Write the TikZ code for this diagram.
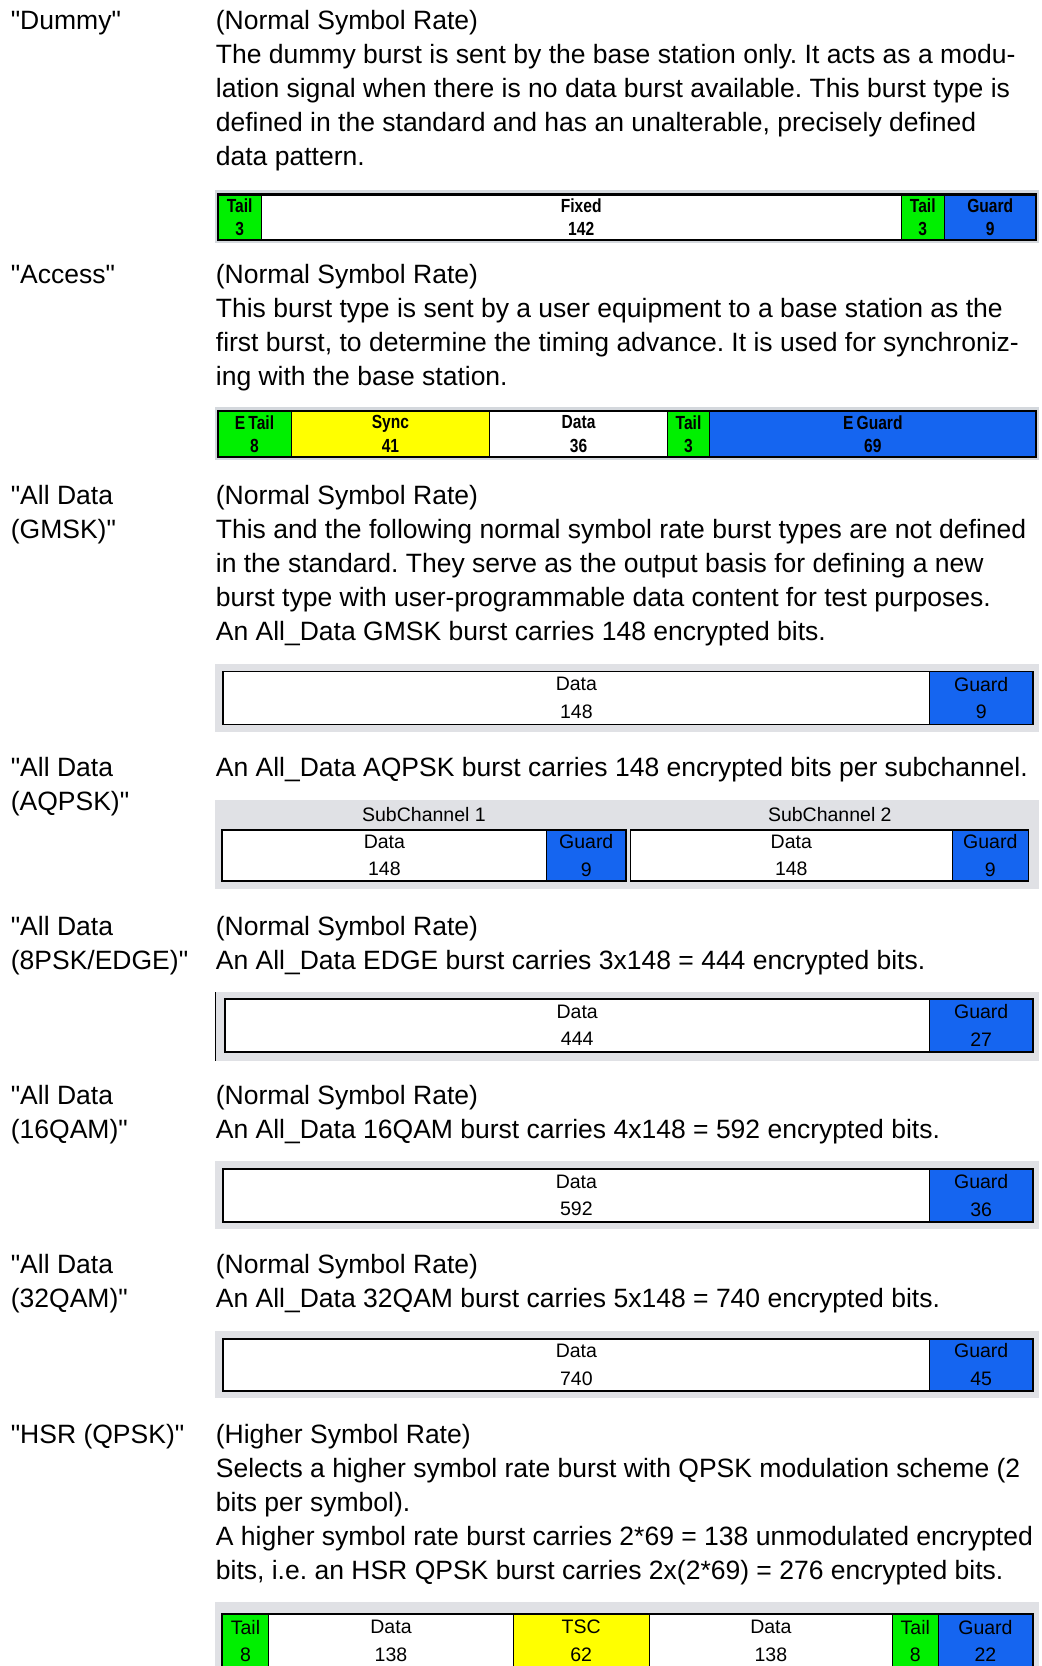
\documentclass[tikz,border=0pt]{standalone}
\usepackage{fontspec}
\setmainfont{Liberation Sans}[Ligatures=TeXOff]
\newfontfamily\narrowbold{Liberation Sans Bold}[FakeStretch=0.82, Ligatures=TeXOff]
\definecolor{tailg}{RGB}{0,240,0}
\definecolor{syncy}{RGB}{255,255,0}
\definecolor{guardb}{RGB}{21,101,240}
\definecolor{bggray}{RGB}{224,225,229}
\definecolor{bggrayb}{RGB}{212,216,221}
\newcommand\bcell[7]{%
  \draw[cellline, fill=#6] (#2,#4) rectangle (#3,#5);
  \node[celltext] (#1) at ({(#2+#3)/2},{(#4+#5)/2}) {#7};}
\frenchspacing
\begin{document}
\begin{tikzpicture}[x=1.0622pt,y=-1.0622pt,
  txt/.style={anchor=north west, inner sep=0pt, align=left, font=\fontsize{26.5}{34}\selectfont},
  bg/.style={fill=bggray, draw=none},
  bgb/.style={fill=bggrayb, draw=none},
  cellline/.style={draw=black, line width=0.9pt},
  boldbar/.style={celltext/.style={inner sep=0pt, align=center, font=\narrowbold\fontsize{19}{23.4}\selectfont}},
  plainbar/.style={celltext/.style={inner sep=0pt, align=center, font=\fontsize{19.5}{27.6}\selectfont}},
  thickframe/.style={draw=black, line width=2.2pt},
  frame/.style={draw=black, line width=1.6pt}]
\clip (0,0) rectangle (980,1568);
\fill[white] (0,0) rectangle (980,1568);

% ---------------- Dummy
\node[txt] (l1) at (10,5.6) {\strut"Dummy"};
\node[txt] (t1) at (203,5.6) {\strut(Normal Symbol Rate)\\
The dummy burst is sent by the base station only. It acts as a modu-\\
lation signal when there is no data burst available. This burst type is\\
defined in the standard and has an unalterable, precisely defined\\
data pattern.};
\fill[bgb] (202,179) rectangle (978,229);
\begin{scope}[boldbar]
\bcell{d1}{205}{246}{183}{226}{tailg}{Tail\\3}
\bcell{d2}{246}{848}{183}{226}{white}{Fixed\\142}
\bcell{d3}{848}{889}{183}{226}{tailg}{Tail\\3}
\bcell{d4}{889}{975}{183}{226}{guardb}{Guard\\9}
\draw[thickframe] (205,183) rectangle (975,226);
\end{scope}

% ---------------- Access
\node[txt] (l2) at (10,244.6) {\strut"Access"};
\node[txt] (t2) at (203,244.6) {\strut(Normal Symbol Rate)\\
This burst type is sent by a user equipment to a base station as the\\
first burst, to determine the timing advance. It is used for synchroniz-\\
ing with the base station.};
\fill[bgb] (202,383) rectangle (978,433);
\begin{scope}[boldbar]
\bcell{a1}{205}{274}{387}{430}{tailg}{E\,Tail\\8}
\bcell{a2}{274}{461}{387}{430}{syncy}{Sync\\41}
\bcell{a3}{461}{628}{387}{430}{white}{Data\\36}
\bcell{a4}{628}{668}{387}{430}{tailg}{Tail\\3}
\bcell{a5}{668}{975}{387}{430}{guardb}{E\,Guard\\69}
\draw[thickframe] (205,387) rectangle (975,430);
\end{scope}

% ---------------- All Data GMSK
\node[txt] (l3) at (10,452.6) {\strut"All Data\\(GMSK)"};
\node[txt] (t3) at (203,452.6) {\strut(Normal Symbol Rate)\\
This and the following normal symbol rate burst types are not defined\\
in the standard. They serve as the output basis for defining a new\\
burst type with user-programmable data content for test purposes.\\
An All\_Data GMSK burst carries 148 encrypted bits.};
\fill[bg] (202,625) rectangle (978,689);
\begin{scope}[plainbar]
\bcell{g1}{210}{875}{632}{682}{white}{Data\\148}
\bcell{g2}{875}{972}{632}{682}{guardb}{Guard\\9}
\draw[frame] (210,632) rectangle (972,682);
\end{scope}

% ---------------- All Data AQPSK
\node[txt] (l4) at (10,708.6) {\strut"All Data\\(AQPSK)"};
\node[txt] (t4) at (203,708.6) {\strut An All\_Data AQPSK burst carries 148 encrypted bits per subchannel.};
\fill[bg] (202,753) rectangle (978,837);
\node[inner sep=0pt, font=\fontsize{19.5}{24}\selectfont] (s1) at (399,767) {SubChannel 1};
\node[inner sep=0pt, font=\fontsize{19.5}{24}\selectfont] (s2) at (781,767) {SubChannel 2};
\begin{scope}[plainbar]
\bcell{q1}{209}{514.5}{781}{829}{white}{Data\\148}
\bcell{q2}{514.5}{589}{781}{829}{guardb}{Guard\\9}
\draw[frame] (209,781) rectangle (589,829);
\bcell{q3}{593.5}{896}{781}{829}{white}{Data\\148}
\bcell{q4}{896}{968}{781}{829}{guardb}{Guard\\9}
\draw[frame] (593.5,781) rectangle (968,829);
\end{scope}

% ---------------- All Data 8PSK/EDGE
\node[txt] (l5) at (10,857.6) {\strut"All Data\\(8PSK/EDGE)"};
\node[txt] (t5) at (203,857.6) {\strut(Normal Symbol Rate)\\
An All\_Data EDGE burst carries 3x148 = 444 encrypted bits.};
\fill[bg] (202,934) rectangle (978,999);
\draw[black, line width=1.4pt] (203,934) -- (203,999);
\begin{scope}[plainbar]
\bcell{e1}{211.5}{875}{940}{990}{white}{Data\\444}
\bcell{e2}{875}{972}{940}{990}{guardb}{Guard\\27}
\draw[frame] (211.5,940) rectangle (972,990);
\end{scope}

% ---------------- All Data 16QAM
\node[txt] (l6) at (10,1016.6) {\strut"All Data\\(16QAM)"};
\node[txt] (t6) at (203,1016.6) {\strut(Normal Symbol Rate)\\
An All\_Data 16QAM burst carries 4x148 = 592 encrypted bits.};
\fill[bg] (202,1093) rectangle (978,1157);
\begin{scope}[plainbar]
\bcell{x1}{210}{875}{1100}{1150}{white}{Data\\592}
\bcell{x2}{875}{972}{1100}{1150}{guardb}{Guard\\36}
\draw[frame] (210,1100) rectangle (972,1150);
\end{scope}

% ---------------- All Data 32QAM
\node[txt] (l7) at (10,1175.6) {\strut"All Data\\(32QAM)"};
\node[txt] (t7) at (203,1175.6) {\strut(Normal Symbol Rate)\\
An All\_Data 32QAM burst carries 5x148 = 740 encrypted bits.};
\fill[bg] (202,1253) rectangle (978,1316);
\begin{scope}[plainbar]
\bcell{y1}{210}{875}{1260}{1309}{white}{Data\\740}
\bcell{y2}{875}{972}{1260}{1309}{guardb}{Guard\\45}
\draw[frame] (210,1260) rectangle (972,1309);
\end{scope}

% ---------------- HSR
\node[txt] (l8) at (10,1335.6) {\strut"HSR (QPSK)"};
\node[txt] (t8) at (203,1335.6) {\strut(Higher Symbol Rate)\\
Selects a higher symbol rate burst with QPSK modulation scheme (2\\
bits per symbol).\\
A higher symbol rate burst carries 2*69 = 138 unmodulated encrypted\\
bits, i.e. an HSR QPSK burst carries 2x(2*69) = 276 encrypted bits.};
\fill[bg] (202,1508) rectangle (978,1575);
\begin{scope}[plainbar]
\bcell{h1}{209}{253}{1519}{1570}{tailg}{Tail\\8}
\bcell{h2}{253}{483}{1519}{1570}{white}{Data\\138}
\bcell{h3}{483}{611}{1519}{1570}{syncy}{TSC\\62}
\bcell{h4}{611}{840}{1519}{1570}{white}{Data\\138}
\bcell{h5}{840}{883}{1519}{1570}{tailg}{Tail\\8}
\bcell{h6}{883}{972}{1519}{1570}{guardb}{Guard\\22}
\draw[frame] (209,1519) rectangle (972,1570);
\end{scope}
\end{tikzpicture}
\end{document}
